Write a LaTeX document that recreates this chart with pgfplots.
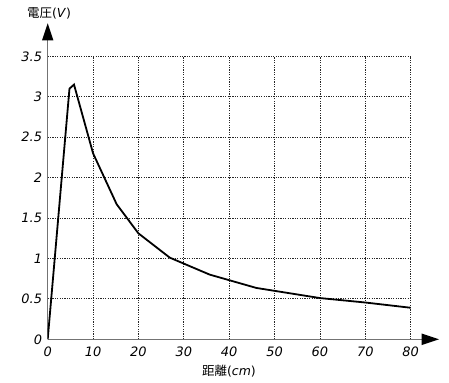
\documentclass[border=0pt]{standalone}
\usepackage{fontspec}
\setmainfont{DejaVu Sans}
\newfontfamily\cjk{Noto Sans CJK JP}
\usepackage{pgfplots}
\pgfplotsset{compat=1.18}
\begin{document}
\begin{tikzpicture}
\useasboundingbox (-47.7bp,-43.7bp) rectangle (401.3bp,339.3bp);
\begin{axis}[
  width=363bp, height=283bp, scale only axis,
  xmin=0, xmax=80, ymin=0, ymax=3.5,
  axis x line=bottom, axis y line=left,
  axis line style={-, draw=black!55, line width=1bp},
  xtick={0,10,...,80},
  ytick={0,0.5,1,1.5,2,2.5,3,3.5},
  major tick length=0pt,
  grid=major,
  grid style={black!85, dash pattern=on 1.2bp off 1.2bp, line width=0.8bp},
  /pgf/number format/assume math mode=true,
  tick label style={font=\fontsize{13}{15}\selectfont\itshape},
  xticklabel style={anchor=center, yshift=-12.5bp},
  yticklabel style={anchor=east, inner sep=0pt, xshift=-5.5bp},
  xlabel={{\cjk 距離}(\textit{cm})},
  ylabel={{\cjk 電圧}(\textit{V})},
  label style={font=\fontsize{12.5}{14}\selectfont},
  xlabel style={at={(axis description cs:0.4995,-0.112)}, anchor=center},
  ylabel style={at={(axis description cs:0.004,1.153)}, rotate=-90, anchor=center},
]
\addplot[black, line width=1.8bp] coordinates {
  (0,0) (4.8,3.1) (5.8,3.15) (10,2.3) (15.2,1.67) (20,1.31) (26.9,1.01)
  (35.7,0.80) (46,0.635) (60,0.51) (70,0.455) (80,0.39)
};
\end{axis}
\draw[black!55, line width=1bp] (363bp,0) -- (375bp,0);
\fill[black] (374bp,-5.8bp) -- (391.3bp,0) -- (374bp,5.8bp) -- cycle;
\draw[black!55, line width=1bp] (0,283bp) -- (0,300bp);
\fill[black] (-5.7bp,299bp) -- (0,316bp) -- (5.7bp,299bp) -- cycle;
\end{tikzpicture}
\end{document}
